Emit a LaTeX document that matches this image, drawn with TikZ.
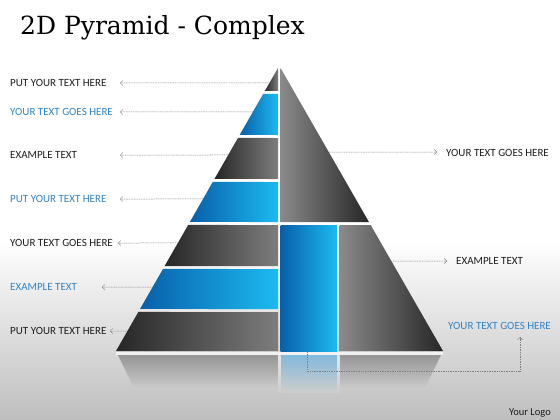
\documentclass[tikz,border=0pt]{standalone}
\usepackage{fontspec}
\setmainfont{Carlito}
\newfontfamily\titlefont{DejaVu Serif}
\usetikzlibrary{calc,arrows.meta}

\definecolor{scuroL}{RGB}{38,38,38}
\definecolor{scuroR}{RGB}{125,125,125}
\definecolor{grigioR}{RGB}{138,138,138}
\definecolor{bluL}{RGB}{8,95,170}
\definecolor{bluR}{RGB}{28,186,240}
\definecolor{bluriflesso}{RGB}{130,185,220}
\definecolor{testoblu}{RGB}{52,132,196}
\definecolor{testoscuro}{RGB}{30,30,30}
\definecolor{fondo}{RGB}{190,190,190}
\definecolor{fondomedio}{RGB}{205,205,205}

\begin{document}
\begin{tikzpicture}[x=1pt,y=-1pt,
		fasciascura/.style={left color=scuroL,right color=scuroR},
		fasciablu/.style={left color=bluL,right color=bluR},
		facciadestra/.style={left color=grigioR,right color=scuroL},
		testo/.style={anchor=west,inner sep=0pt,font=\fontsize{11}{13}\selectfont},
		freccia/.style={draw=gray,dash pattern=on 1pt off 0.7pt,line width=0.5pt,
				-{Straight Barb[length=2.5pt,width=5pt]}}
	]
	\useasboundingbox (0,0) rectangle (560,420);
	% sfondo
	\fill[white] (0,0) rectangle (560,420);
	\shade[top color=white,bottom color=fondo] (0,240) rectangle (560,420);

	\coordinate (A) at (278,68);
	\coordinate (BL) at (116,351);
	\coordinate (AR) at (280.5,68);
	\coordinate (BR) at (443,351);

	% riflesso sotto la base
	\fill[white!90!gray] (116,352) rectangle (443,354.5);
	\shade[top color=gray!90!black!75,bottom color=fondomedio]
	(118,355) -- (441,355) -- (424,390) -- (135,390) -- cycle;
	\shade[top color=bluriflesso,bottom color=fondomedio]
	(280.5,355) rectangle (337,392);
	\shade[top color=white!80!gray,bottom color=fondomedio] (278,355) rectangle (280.5,392);
	\shade[top color=white!80!gray,bottom color=fondomedio] (337,355) rectangle (339.5,392);

	% meta sinistra a fasce
	\foreach \t/\b/\s in {68/91/fasciascura,94/135/fasciablu,138/179/fasciascura,
			182/222/fasciablu,225/266/fasciascura,269/309/fasciablu,312/351/fasciascura}{
			\pgfmathsetmacro\ft{(\t-68)/283}
			\pgfmathsetmacro\fb{(\b-68)/283}
			\path[\s] ($(A)!\ft!(BL)$) -- (278,\t) -- (278,\b) -- ($(A)!\fb!(BL)$) -- cycle;
		}

	% meta destra
	\path[facciadestra] (AR) -- ($(AR)!0.5442!(BR)$) -- (280.5,222) -- cycle;
	\path[fasciablu] (280.5,225) rectangle (337,351);
	\path[facciadestra] (339.5,225) -- ($(AR)!0.5548!(BR)$) -- (BR) -- (339.5,351) -- cycle;

	% etichette a sinistra
	\foreach \y/\tip/\col/\tx [count=\i] in {
			83/120/testoscuro/PUT YOUR TEXT HERE,
			112/120/testoblu/YOUR TEXT GOES HERE,
			155/120/testoscuro/EXAMPLE TEXT,
			199/120/testoblu/PUT YOUR TEXT HERE,
			243/118/testoscuro/YOUR TEXT GOES HERE,
			287/102/testoblu/EXAMPLE TEXT,
			331/110/testoscuro/PUT YOUR TEXT HERE}{
			\node[testo,text=\col] (sx\i) at (10,\y) {\tx};
			\pgfmathsetmacro\f{(\y-68)/283}
			\coordinate (ps\i) at ($(A)!\f!(BL)$);
			\coordinate (pt\i) at (\tip,\y);
			\draw[freccia] (ps\i) -- (pt\i);
		}

	% etichette a destra
	\node[testo,text=testoscuro] (dx1) at (446,153) {YOUR TEXT GOES HERE};
	\node[testo,text=testoscuro] (dx2) at (456,261) {EXAMPLE TEXT};
	\node[testo,text=testoblu] (dx3) at (448,326) {YOUR TEXT GOES HERE};
	\coordinate (pd1) at ($(AR)!0.2969!(BR)$);
	\coordinate (qd1) at (437,152);
	\coordinate (pd2) at ($(AR)!0.6820!(BR)$);
	\coordinate (qd2) at (447,261);
	\coordinate (pe) at (307,352);
	\coordinate (ge) at (520,371);
	\coordinate (qe) at (520,337);
	\draw[freccia] (pd1) -- (qd1);
	\draw[freccia] (pd2) -- (qd2);
	\draw[freccia] (pe) |- (ge) -- (qe);

	\node[anchor=base west,inner sep=0pt,font=\titlefont\fontsize{25}{30}\selectfont] (titolo) at (20,35) {2D Pyramid - Complex};
	\node[anchor=base east,inner sep=0pt,text=testoscuro,font=\fontsize{10.5}{12}\selectfont] (logo) at (551,415) {Your Logo};
\end{tikzpicture}
\end{document}
